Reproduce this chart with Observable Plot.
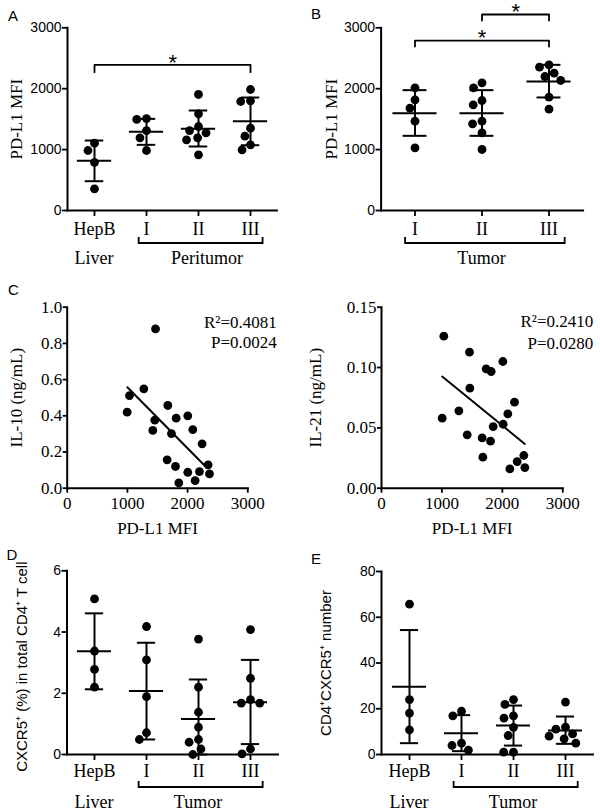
<!DOCTYPE html>
<html><head><meta charset="utf-8">
<script src="https://cdn.jsdelivr.net/npm/d3@7"></script>
<script src="https://cdn.jsdelivr.net/npm/@observablehq/plot@0.6"></script>
<style>
body{margin:0;background:#fff}
#fig{position:relative;width:600px;height:811px;overflow:hidden;background:#fff}
.panel{position:absolute}
.panel svg{position:absolute;left:0;top:0;max-width:none}
.plabel{position:absolute;font-family:'Liberation Sans',Arial,sans-serif;font-size:15px;line-height:15px;color:#000}
</style></head><body><div id="fig"></div>
<script>
const SANS = "'Liberation Sans', Arial, sans-serif";
const SERIF = "'Liberation Serif', 'Times New Roman', serif";

// ---------- Panel A : PD-L1 MFI, Liver vs Peritumor ----------
const aGroups = ["HepB", "I", "II", "III"];
const aHepB = [1105, 985, 788, 356];
const aI = [1510, 1495, 1313, 1193, 985];
const aII = [1905, 1588, 1379, 1313, 1276, 1193, 1160, 914];
const aIII = [1987, 1801, 1790, 1352, 1220, 1078, 996];
const aMean = [816, 1292, 1341, 1467];
const aSdLow = [481, 1078, 1051, 1072];
const aSdHigh = [1149, 1505, 1642, 1855];
const aTicks = [0, 1000, 2000, 3000];
const aSigFrom = ["HepB"], aSigTo = ["III"], aSigLevel = [2392], aSigDrop = [2271];

// ---------- Panel B : PD-L1 MFI, Tumor ----------
const bGroups = ["I", "II", "III"];
const bI = [2015, 1818, 1680, 1467, 1029];
const bII = [2097, 2015, 1806, 1735, 1467, 1423, 1276, 1002];
const bIII = [2392, 2353, 2255, 2200, 2135, 1861, 1664];
const bMean = [1598, 1598, 2118];
const bSdLow = [1226, 1226, 1856];
const bSdHigh = [1976, 1976, 2392];
const bTicks = [0, 1000, 2000, 3000];
const bSigFrom = ["I", "II"], bSigTo = ["III", "III"], bSigLevel = [2791, 3218], bSigDrop = [2693, 3120];

// ---------- Panel C : correlations ----------
const c1X = [1467, 1035, 996, 1273, 1455, 1422, 1671, 1810, 1732, 2003, 2086, 2241, 1660, 1799, 2003, 1854, 2125, 2197, 2341, 2363];
const c1Y = [0.880, 0.512, 0.420, 0.549, 0.376, 0.319, 0.457, 0.387, 0.302, 0.400, 0.324, 0.245, 0.157, 0.120, 0.088, 0.029, 0.042, 0.092, 0.129, 0.079];
const c1FitX = [1000, 2310];
const c1FitY = [0.558, 0.116];
const c1YTicks = [0, 0.2, 0.4, 0.6, 0.8, 1.0];
const c2X = [1031, 1456, 1732, 1815, 2008, 1462, 1004, 1280, 1418, 1666, 1804, 1677, 1848, 2013, 2090, 2201, 2245, 2124, 2355, 2372];
const c2Y = [0.126, 0.1127, 0.0989, 0.0967, 0.105, 0.0829, 0.058, 0.0641, 0.0442, 0.0417, 0.0390, 0.0257, 0.0511, 0.0530, 0.0616, 0.0713, 0.0221, 0.0160, 0.0271, 0.0171];
const c2FitX = [1004, 2372];
const c2FitY = [0.0925, 0.0367];
const c2YTicks = [0, 0.05, 0.10, 0.15];
const cXTicks = [0, 1000, 2000, 3000];

// ---------- Panel D : CXCR5+ % ----------
const dGroups = ["HepB", "I", "II", "III"];
const dHepB = [5.08, 3.38, 2.78, 2.20];
const dI = [4.18, 3.09, 1.89, 0.71, 0.49];
const dII = [3.77, 2.20, 1.38, 0.89, 0.49, 0.40, 0.18, 0.0];
const dIII = [4.08, 2.49, 1.79, 1.68, 1.68, 0.18, 0.02];
const dMean = [3.37, 2.07, 1.16, 1.71];
const dSdLow = [2.13, 0.49, 0, 0.34];
const dSdHigh = [4.61, 3.65, 2.45, 3.09];
const dTicks = [0, 2, 4, 6];

// ---------- Panel E : CD4+CXCR5+ number ----------
const eGroups = ["HepB", "I", "II", "III"];
const eHepB = [65.7, 24.0, 18.1, 10.8];
const eI = [18.9, 16.9, 4.95, 3.93, 1.9];
const eII = [24.0, 21.9, 16.9, 15.9, 11.9, 8.3, 1.0, 1.0];
const eIII = [22.9, 11.95, 11.1, 9.0, 8.0, 6.85, 4.95];
const eMean = [29.6, 9.33, 12.7, 10.5];
const eSdLow = [4.95, 1.46, 3.9, 4.66];
const eSdHigh = [54.4, 17.2, 21.4, 16.6];
const eTicks = [0, 20, 40, 60, 80];

const fig = document.getElementById("fig");

function addPanel(left, top, w, h) {
  const div = document.createElement("div");
  div.className = "panel";
  div.style.left = left + "px"; div.style.top = top + "px";
  div.style.width = w + "px"; div.style.height = h + "px";
  fig.appendChild(div);
  return div;
}
function addLetter(t, left, top) {
  const d = document.createElement("div");
  d.className = "plabel"; d.textContent = t;
  d.style.left = left + "px"; d.style.top = top + "px";
  fig.appendChild(d);
}

function catPanel(p) {
  const n = p.groups.length;
  const bw = (p.W - p.ml - p.mr) / n;
  const pts = p.groups.flatMap((g, i) => p.values[i].map(v => ({g, v})));
  const stats = p.groups.map((g, i) => ({g, mean: p.mean[i], lo: p.lo[i], hi: p.hi[i]}));
  const sig = p.sigFrom.map((f, k) => ({k, from: f, to: p.sigTo[k], level: p.sigLevel[k], drop: p.sigDrop[k]}));
  const brk = sig.flatMap(s => [
    {k: s.k, g: s.from, y: s.drop}, {k: s.k, g: s.from, y: s.level},
    {k: s.k, g: s.to, y: s.level}, {k: s.k, g: s.to, y: s.drop}]);
  const starMarks = sig.map(s => {
    const mid = (p.groups.indexOf(s.from) + p.groups.indexOf(s.to)) / 2;
    return Plot.text([s], {x: () => p.groups[Math.floor(mid)], y: "level", text: () => "*",
      dx: (mid % 1) * bw, dy: p.starDy, fontFamily: SANS, fontSize: 22, lineAnchor: "middle"});
  });
  const common = {width: p.W, height: p.H, marginLeft: p.ml, marginRight: p.mr, marginTop: p.mt, marginBottom: p.mb};
  const base = Plot.plot({...common,
    style: {background: "transparent", color: "#000", overflow: "visible"},
    x: {type: "band", domain: p.groups, padding: 0, axis: null},
    y: {domain: p.yDomain, axis: null},
    marks: [
      Plot.axisY({ticks: p.yTicks, tickFormat: d3.format("d"), tickSize: 5, tickPadding: 1, strokeWidth: 1.8,
        fontFamily: SANS, fontSize: 14, label: null}),
      Plot.axisX({tickSize: 6, tickPadding: p.xPad, strokeWidth: 1.8, fontFamily: SERIF, fontSize: 18, label: null}),
      Plot.frame({anchor: "left", strokeWidth: 2}),
      Plot.frame({anchor: "bottom", strokeWidth: 2}),
      Plot.ruleX(stats, {x: "g", y1: "lo", y2: "hi", strokeWidth: 2}),
      Plot.tickY(stats, {x: "g", y: "mean", insetLeft: bw * 0.17, insetRight: bw * 0.17, strokeWidth: 2}),
      Plot.tickY(stats, {x: "g", y: "hi", insetLeft: bw * 0.32, insetRight: bw * 0.32, strokeWidth: 2}),
      Plot.tickY(stats, {x: "g", y: "lo", insetLeft: bw * 0.32, insetRight: bw * 0.32, strokeWidth: 2}),
      Plot.line(brk, {x: "g", y: "y", z: "k", strokeWidth: 1.8}),
      ...starMarks,
      Plot.text([p.yLabel], {frameAnchor: "left", rotate: -90, dx: p.yLabelDx, dy: p.yLabelDy || 0,
        fontFamily: p.yLabelFont, fontSize: p.yLabelSize, lineAnchor: "middle", textAnchor: "middle"})
    ]
  });
  const dots = Plot.plot({...common,
    style: {background: "transparent", overflow: "visible"},
    fx: {domain: p.groups, padding: 0, axis: null},
    y: {domain: p.yDomain, axis: null},
    marks: [Plot.dot(pts, Plot.dodgeX("middle", {fx: "g", y: "v", r: 4.4, fill: "#000", padding: 0.6}))]
  });
  // group bracket and group names beneath the category axis
  const xs = base.scale("x");
  const cx = g => xs.apply(g) + xs.bandwidth / 2;
  const y0 = p.H - p.mb + 33;
  const g1 = p.bracketGroups[0], g2 = p.bracketGroups[1];
  const x1 = cx(g1) - 0.14 * bw, x2 = cx(g2) + 0.24 * bw;
  const s = d3.select(base);
  s.append("path").attr("d", `M${x1},${y0 - 6}V${y0}H${x2}V${y0 - 6}`)
    .attr("fill", "none").attr("stroke", "#000").attr("stroke-width", 1.8);
  const labY = p.H - p.mb + 48;
  if (p.liverGroup) {
    s.append("text").attr("x", cx(p.liverGroup)).attr("y", labY).attr("dy", "0.33em")
      .attr("text-anchor", "middle").attr("font-family", SERIF).attr("font-size", 18).attr("fill", "#000").text("Liver");
  }
  s.append("text").attr("x", (cx(g1) + cx(g2)) / 2 + (p.bracketLabelDx || 0)).attr("y", labY).attr("dy", "0.33em")
    .attr("text-anchor", "middle").attr("font-family", SERIF).attr("font-size", 18).attr("fill", "#000").text(p.bracketLabel);
  const div = addPanel(p.left, p.top, p.W, p.H);
  div.appendChild(base);
  div.appendChild(dots);
}

function scatterPanel(p) {
  const pts = p.xs.map((x, i) => ({x, y: p.ys[i]}));
  const fit = p.fitX.map((x, i) => ({x, y: p.fitY[i]}));
  const svg = Plot.plot({
    width: p.W, height: p.H, marginLeft: p.ml, marginRight: p.mr, marginTop: p.mt, marginBottom: p.mb,
    style: {background: "transparent", color: "#000", overflow: "visible"},
    x: {domain: [0, 3000], axis: null},
    y: {domain: p.yDomain, axis: null},
    marks: [
      Plot.axisY({ticks: p.yTicks, tickFormat: d3.format(p.yFmt), tickSize: 4, tickPadding: 1, strokeWidth: 1.8,
        fontFamily: SERIF, fontSize: 17, label: null}),
      Plot.axisX({ticks: cXTicks, tickFormat: d3.format("d"), tickSize: 5, tickPadding: 3.5, strokeWidth: 1.8,
        fontFamily: SERIF, fontSize: 17, label: null}),
      Plot.frame({anchor: "left", strokeWidth: 2}),
      Plot.frame({anchor: "bottom", strokeWidth: 2}),
      Plot.line(fit, {x: "x", y: "y", strokeWidth: 2}),
      Plot.dot(pts, {x: "x", y: "y", r: 4.4, fill: "#000"}),
      Plot.text([p.r2], {frameAnchor: "top-right", textAnchor: "end", lineAnchor: "middle", dx: p.statDx, dy: p.r2Dy,
        fontFamily: SERIF, fontSize: 17}),
      Plot.text([p.pval], {frameAnchor: "top-right", textAnchor: "end", lineAnchor: "middle", dx: p.statDx, dy: p.pDy,
        fontFamily: SERIF, fontSize: 17}),
      Plot.text([p.yLabel], {frameAnchor: "left", rotate: -90, dx: p.yLabelDx, lineAnchor: "middle", textAnchor: "middle",
        fontFamily: SERIF, fontSize: 17}),
      Plot.text([p.xLabel], {frameAnchor: "bottom", dy: p.xLabelDy, lineAnchor: "middle", textAnchor: "middle",
        fontFamily: SERIF, fontSize: 17})
    ]
  });
  const div = addPanel(p.left, p.top, p.W, p.H);
  div.appendChild(svg);
}

catPanel({left: 0, top: 0, W: 300, H: 270, ml: 67, mr: 23.6, mt: 27.3, mb: 60, xPad: 6,
  groups: aGroups, values: [aHepB, aI, aII, aIII], mean: aMean, lo: aSdLow, hi: aSdHigh,
  yDomain: [0, 3000], yTicks: aTicks, sigFrom: aSigFrom, sigTo: aSigTo, sigLevel: aSigLevel, sigDrop: aSigDrop, starDy: -1.5,
  yLabel: "PD-L1 MFI", yLabelFont: SERIF, yLabelSize: 17, yLabelDx: -51,
  bracketGroups: ["I", "III"], bracketLabel: "Peritumor", bracketLabelDx: 9, liverGroup: "HepB"});

catPanel({left: 300, top: 0, W: 300, H: 270, ml: 80.6, mr: 17.4, mt: 27.3, mb: 60, xPad: 6,
  groups: bGroups, values: [bI, bII, bIII], mean: bMean, lo: bSdLow, hi: bSdHigh,
  yDomain: [0, 3000], yTicks: bTicks, sigFrom: bSigFrom, sigTo: bSigTo, sigLevel: bSigLevel, sigDrop: bSigDrop, starDy: -3,
  yLabel: "PD-L1 MFI", yLabelFont: SERIF, yLabelSize: 17, yLabelDx: -50,
  bracketGroups: ["I", "III"], bracketLabel: "Tumor", liverGroup: null});

scatterPanel({left: 0, top: 270, W: 300, H: 270, ml: 66.7, mr: 52.7, mt: 36.7, mb: 52.3,
  xs: c1X, ys: c1Y, fitX: c1FitX, fitY: c1FitY, yDomain: [0, 1], yTicks: c1YTicks, yFmt: ".1f",
  r2: "R²=0.4081", pval: "P=0.0024", statDx: 29, r2Dy: 15, pDy: 35,
  yLabel: "IL-10 (ng/mL)", yLabelDx: -51, xLabel: "PD-L1 MFI", xLabelDy: 40});

scatterPanel({left: 300, top: 270, W: 300, H: 270, ml: 81, mr: 37.7, mt: 36.7, mb: 52.3,
  xs: c2X, ys: c2Y, fitX: c2FitX, fitY: c2FitY, yDomain: [0, 0.15], yTicks: c2YTicks, yFmt: ".2f",
  r2: "R²=0.2410", pval: "P=0.0280", statDx: 30.5, r2Dy: 14, pDy: 36,
  yLabel: "IL-21 (ng/mL)", yLabelDx: -66, xLabel: "PD-L1 MFI", xLabelDy: 40});

catPanel({left: 0, top: 540, W: 300, H: 271, ml: 66.5, mr: 22.5, mt: 30.3, mb: 57, xPad: 4,
  groups: dGroups, values: [dHepB, dI, dII, dIII], mean: dMean, lo: dSdLow, hi: dSdHigh,
  yDomain: [0, 6], yTicks: dTicks, sigFrom: [], sigTo: [], sigLevel: [], sigDrop: [], starDy: 0,
  yLabel: "CXCR5⁺ (%) in total CD4⁺ T cell", yLabelFont: SANS, yLabelSize: 15, yLabelDx: -45, yLabelDy: 4,
  bracketGroups: ["I", "III"], bracketLabel: "Tumor", liverGroup: "HepB"});

catPanel({left: 300, top: 540, W: 300, H: 271, ml: 81, mr: 7.5, mt: 31, mb: 57, xPad: 4,
  groups: eGroups, values: [eHepB, eI, eII, eIII], mean: eMean, lo: eSdLow, hi: eSdHigh,
  yDomain: [0, 80], yTicks: eTicks, sigFrom: [], sigTo: [], sigLevel: [], sigDrop: [], starDy: 0,
  yLabel: "CD4⁺CXCR5⁺ number", yLabelFont: SANS, yLabelSize: 15, yLabelDx: -55, yLabelDy: 0,
  bracketGroups: ["I", "III"], bracketLabel: "Tumor", liverGroup: "HepB"});

addLetter("A", 8, 8);
addLetter("B", 311, 5.5);
addLetter("C", 8, 281.5);
addLetter("D", 6.5, 546.5);
addLetter("E", 311, 551);
</script>
</body></html>
